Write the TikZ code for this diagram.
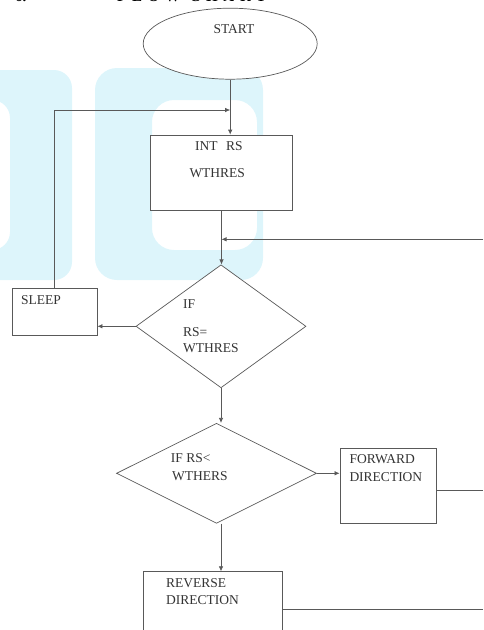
\documentclass[tikz,border=0pt]{standalone}
\usepackage{fontspec}
\setmainfont{Liberation Serif}
\usetikzlibrary{shapes.geometric,arrows.meta,calc}
\definecolor{ln}{HTML}{595959}
\definecolor{tx}{HTML}{333333}
\definecolor{wm}{HTML}{DDF5FB}
\begin{document}
\begin{tikzpicture}[x=1pt,y=-1pt,
  box/.style={draw=ln,line width=0.7pt,fill=white,inner sep=0pt,rectangle},
  dia/.style={draw=ln,line width=0.7pt,fill=white,diamond,inner sep=0pt},
  oval/.style={draw=ln,line width=0.7pt,fill=white,ellipse,inner sep=0pt},
  lbl/.style={anchor=base west,inner sep=0pt,text=tx,font=\fontsize{13.5}{16}\selectfont},
  ttl/.style={anchor=base west,inner sep=0pt,text=black,font=\bfseries\fontsize{15}{18}\selectfont},
  conn/.style={draw=ln,line width=0.7pt},
  arr/.style={conn,-{Latex[length=5pt,width=4.5pt]}}]
\useasboundingbox (0,0) rectangle (483,630);
% watermark
\fill[wm,even odd rule,rounded corners=18pt] (-40,70) rectangle (72,280) (-40,100) rectangle (10,250);
\fill[wm,even odd rule,rounded corners=22pt] (95,68) rectangle (263,280) (152,100) rectangle (257,250);
% title (cut off at top)
\node[ttl] (num) at (15,1.5) {6.};
\node[ttl] (title) at (117,1.5) {\addfontfeature{LetterSpace=38}FLOW CHART};
% shapes
\node[oval,minimum width=174pt,minimum height=71pt] (start) at (230.2,43.7) {};
\node[box,minimum width=142.4pt,minimum height=75pt] (init) at (221.5,172.5) {};
\node[box,minimum width=84.7pt,minimum height=46.7pt] (sleep) at (54.7,311.7) {};
\node[dia,minimum width=170pt,minimum height=123pt] (d1) at (221,326.3) {};
\node[dia,minimum width=200pt,minimum height=100pt] (d2) at (216.5,473.3) {};
\node[box,minimum width=96.7pt,minimum height=75pt] (fwd) at (388.3,485.8) {};
\node[box,minimum width=138.7pt,minimum height=75pt] (rev) at (212.7,609.2) {};
% labels
\node[lbl] (tstart) at (213.3,33.8) {START};
\node[lbl] (tinit1) at (195,150.5) {INT\hspace{8.5pt}RS};
\node[lbl] (tinit2) at (189.3,177.8) {WTHRES};
\node[lbl] (tsleep) at (21,304.5) {SLEEP};
\node[lbl] (td1a) at (183,308.8) {IF};
\node[lbl] (td1b) at (183,336.5) {RS=};
\node[lbl] (td1c) at (183,352.8) {WTHRES};
\node[lbl] (td2a) at (170.7,462.8) {IF RS<};
\node[lbl] (td2b) at (172,480.5) {WTHERS};
\node[lbl] (tfwd1) at (349.3,463.8) {FORWARD};
\node[lbl] (tfwd2) at (349.3,481.8) {DIRECTION};
\node[lbl] (trev1) at (166,587.2) {REVERSE};
\node[lbl] (trev2) at (166,604.5) {DIRECTION};
% connector points
\coordinate (loopin) at (230.2,110);
\coordinate (j1) at (221.5,239.3);
\coordinate (retR) at (483,239.3);
\coordinate (fwdR) at (483,490.7);
\coordinate (revR) at (483,609.3);
% connectors
\draw[arr] (start.south) -- (start.south |- init.north);
\draw[arr] (sleep.north) |- (loopin);
\draw[arr] (init.south) -- (init.south |- d1.north);
\draw[arr] (retR) -- (j1);
\draw[arr] (d1.west) -- (d1.west -| sleep.east);
\draw[arr] (d1.south) -- (d1.south |- d2.north);
\draw[arr] (d2.east) -- (d2.east -| fwd.west);
\draw[conn] (fwd.east |- fwdR) -- (fwdR);
\draw[arr] (d1.south |- d2.south) -- (d1.south |- rev.north);
\draw[conn] (rev.east |- revR) -- (revR);
\end{tikzpicture}
\end{document}
